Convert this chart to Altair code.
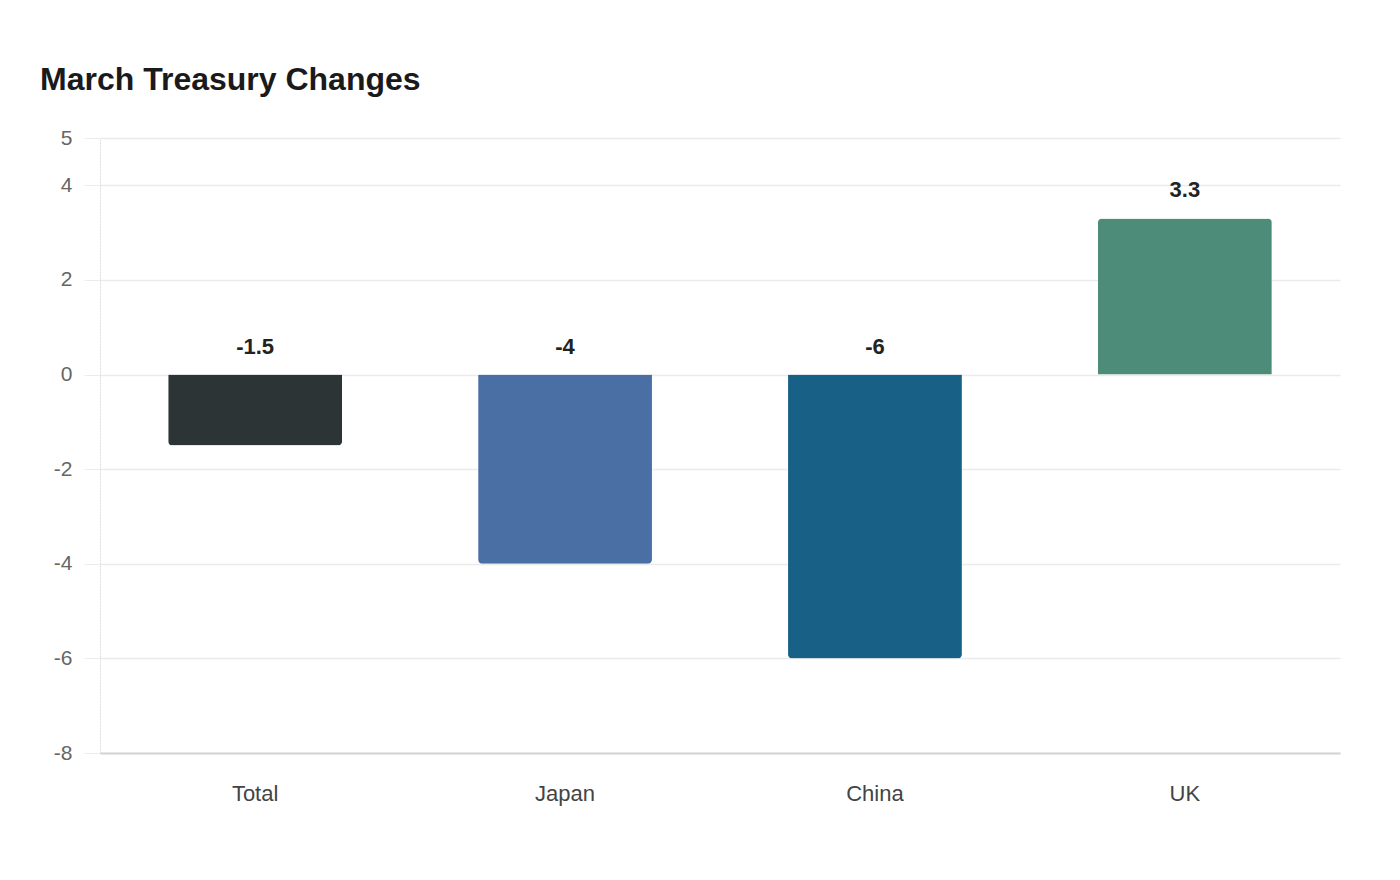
import altair as alt
import pandas as pd

# values
regions = ["Total", "Japan", "China", "UK"]
changes = [-1.5, -4, -6, 3.3]
bar_colors = ["#2d3436", "#4a6fa5", "#186086", "#4e8c7a"]
y_ticks = [-8, -6, -4, -2, 0, 2, 4, 5]

df = pd.DataFrame({"Region": regions, "Change": changes})

FONT = "Liberation Sans"

x_enc = alt.X("Region:N", sort=regions, title=None,
              scale=alt.Scale(paddingInner=0.439, paddingOuter=0.22),
              axis=alt.Axis(labelAngle=0, labelFontSize=22, labelColor="#444444",
                            labelFont=FONT, ticks=False, labelPadding=30,
                            domainColor="#d4d4d4", domainWidth=2, grid=False))

y_enc = alt.Y("Change:Q", title=None,
              scale=alt.Scale(domain=[-8, 5], nice=False, zero=False),
              axis=alt.Axis(values=y_ticks, labelFontSize=21, labelColor="#666666",
                            labelFont=FONT, tickSize=16, tickColor="#ebebeb",
                            labelPadding=12, gridColor="#ebebeb", gridWidth=1.5,
                            domainColor="#dddddd", domainDash=[2, 1],
                            labelExpr="toString(datum.value)"))

color_enc = alt.Color("Region:N", sort=regions, legend=None,
                      scale=alt.Scale(domain=regions, range=bar_colors))

base = alt.Chart(df).encode(x=x_enc, y=y_enc, color=color_enc)

# round only the far end of each bar
neg_bars = base.transform_filter("datum.Change < 0").mark_bar(
    cornerRadiusBottomLeft=4, cornerRadiusBottomRight=4)
pos_bars = base.transform_filter("datum.Change >= 0").mark_bar(
    cornerRadiusTopLeft=4, cornerRadiusTopRight=4)

# labels sit above the bar top, or above zero for negative bars
labels = alt.Chart(df).transform_calculate(
    pos="max(datum.Change, 0)",
    label="toString(datum.Change)"
).mark_text(fontSize=22, fontWeight="bold", color="#222222", font=FONT,
            baseline="alphabetic", dy=-21).encode(
    x=alt.X("Region:N", sort=regions),
    y=alt.Y("pos:Q"),
    text=alt.Text("label:N"),
)

chart = alt.layer(neg_bars, pos_bars, labels).properties(
    width=1240,
    height=615,
    autosize=alt.AutoSizeParams(type="none"),
    padding={"left": 92, "top": 130, "right": 40, "bottom": 100},
    title=alt.TitleParams("March Treasury Changes", anchor="start", frame="group",
                          dx=-60, fontSize=32, fontWeight="bold", color="#1a1a1a",
                          font=FONT, offset=30),
).configure_view(stroke=None)

chart.save("out.html", embed_options={"renderer": "svg", "actions": False})
